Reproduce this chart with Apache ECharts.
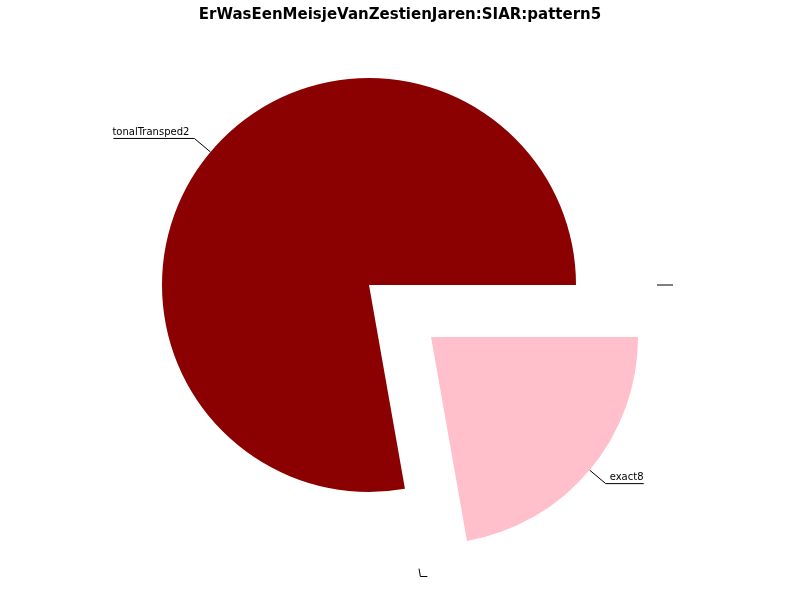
<!DOCTYPE html>
<html>
<head>
<meta charset="utf-8">
<script src="https://cdn.jsdelivr.net/npm/echarts@6/dist/echarts.min.js"></script>
<style>html,body{margin:0;padding:0;background:#fff}#c{width:800px;height:600px}</style>
</head>
<body>
<div id="c"></div>
<script>
const titleText = 'ErWasEenMeisjeVanZestienJaren:SIAR:pattern5';
const categories = ['tonalTransped2', '', 'exact8', ''];
const values = [7, 0, 2, 0];
const colors = ['#8b0000', '#ffffff', '#ffc0cb', '#ffffff'];
const exploded = [false, true, true, true];

const lineCfg = [
  { length: 21, length2: 81, dist: -76 },
  { length: 8, length2: 7, dist: 0 },
  { length: 21, length2: 38, dist: -34 },
  { length: 0, length2: 16, dist: 0 }
];

const chart = echarts.init(document.getElementById('c'), null, { renderer: 'canvas' });
const data = categories.map((name, i) => ({
  name: name,
  value: values[i],
  selected: exploded[i],
  itemStyle: { color: colors[i] },
  select: { itemStyle: { color: colors[i], borderWidth: 0 } },
  labelLine: { length: lineCfg[i].length, length2: lineCfg[i].length2 },
  label: { distanceToLabelLine: lineCfg[i].dist }
}));

chart.setOption({
  animation: false,
  backgroundColor: '#ffffff',
  title: {
    text: titleText,
    left: 'center',
    top: 3,
    textStyle: { fontFamily: 'DejaVu Sans', fontSize: 15, fontWeight: 'bold', color: '#000' }
  },
  series: [{
    type: 'pie',
    center: [369, 285],
    radius: 207,
    startAngle: 0,
    clockwise: false,
    selectedMode: 'multiple',
    selectedOffset: 81,
    avoidLabelOverlap: false,
    emphasis: { disabled: true },
    itemStyle: { borderWidth: 0 },
    label: {
      show: true,
      position: 'outside',
      fontFamily: 'DejaVu Sans',
      fontSize: 10,
      color: '#000',
      lineHeight: 12,
      formatter: function (p) { return p.name + '\n '; }
    },
    labelLine: {
      show: true,
      smooth: false,
      lineStyle: { color: '#000', width: 1 }
    },
    data: data
  }]
});
</script>
</body>
</html>
